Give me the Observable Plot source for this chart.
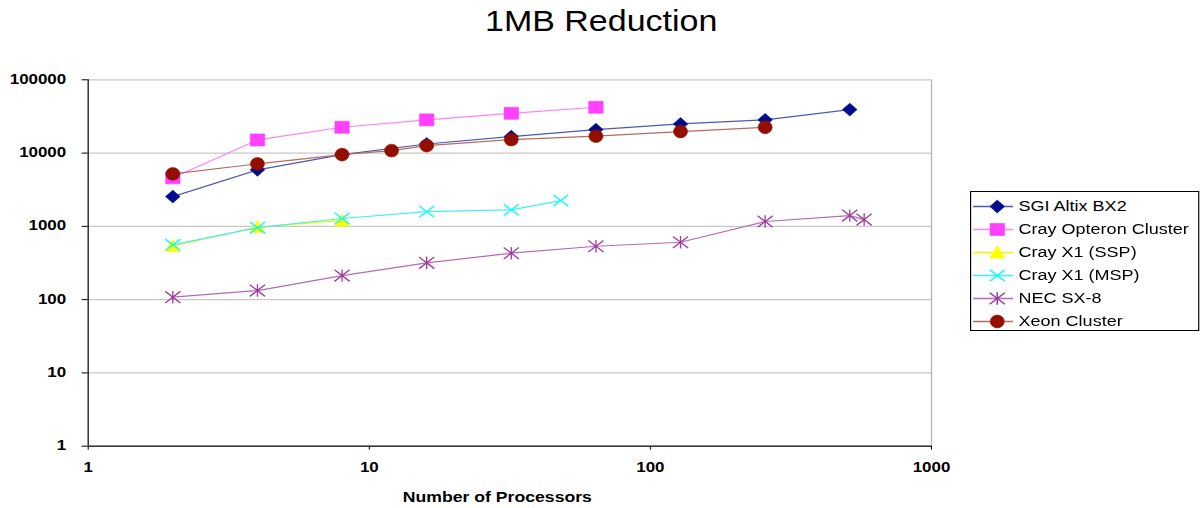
<!DOCTYPE html>
<html>
<head>
<meta charset="utf-8">
<script src="https://cdn.jsdelivr.net/npm/d3@7"></script>
<script src="https://cdn.jsdelivr.net/npm/@observablehq/plot@0.6"></script>
<style>
  html, body { margin: 0; padding: 0; background: #fff; }
  #wrap { position: relative; width: 1203px; height: 508px; overflow: hidden;
          font-family: "Liberation Sans", Arial, sans-serif; }
  #title { height: 45px; width: 1203px; text-align: center; box-sizing: border-box;
           padding-top: 5.5px; line-height: 29px; font-size: 29.3px; color: #000; }
  #title span { display: inline-block; transform: scaleX(1.16); transform-origin: center; }
  #chart svg { display: block; }
  #legend { position: absolute; left: 970px; top: 191px; width: 195.7px; height: 140px;
            box-sizing: border-box; border: 1px solid #000; background: #fff;
            transform: scaleX(1.17); transform-origin: left top; }
  #legend svg { display: block; }
</style>
</head>
<body>
<div id="wrap">
  <div id="title"><span>1MB Reduction</span></div>
  <div id="chart"></div>
  <div id="legend"></div>
</div>
<script>
// ---------- data ----------
const seriesNames = ["SGI Altix BX2", "Cray Opteron Cluster", "Cray X1 (SSP)", "Cray X1 (MSP)", "NEC SX-8", "Xeon Cluster"];

const sgiProcs = [2, 4, 8, 16, 32, 64, 128, 256, 512];
const sgiValues = [2550, 5900, 9500, 13300, 16800, 20900, 25000, 28400, 39200];

const opteronProcs = [2, 4, 8, 16, 32, 64];
const opteronValues = [4600, 15100, 22500, 28400, 34900, 42200];

const sspProcs = [2, 4, 8];
const sspValues = [540, 980, 1200];

const mspProcs = [2, 4, 8, 16, 32, 48];
const mspValues = [560, 960, 1280, 1590, 1680, 2250];

const necProcs = [2, 4, 8, 16, 32, 64, 128, 256, 512, 576];
const necValues = [108, 133, 213, 318, 430, 535, 607, 1165, 1403, 1238];

const xeonProcs = [2, 4, 8, 12, 16, 32, 64, 128, 256];
const xeonValues = [5200, 7130, 9540, 10800, 12650, 15270, 16990, 19650, 22500];

const yTicks = [1, 10, 100, 1000, 10000, 100000];
const xTicks = [1, 10, 100, 1000];
const xLabel = "Number of Processors";

// ---------- styles ----------
const lineColors   = ["#4a5ab4", "#ff80ff", "#f4f400", "#40f0f0", "#b868b8", "#b86a60"];
const markerColors = ["#000c8c", "#ff40ff", "#ffff00", "#00ffff", "#9c3c9c", "#920f00"];
const markerKinds  = ["diamond", "square", "triangle", "times", "star", "circle"];

function makeSymbol(kind, k) {
  // k: horizontal stretch factor
  return {
    draw(c) {
      if (kind === "diamond") {
        c.moveTo(0, -6.4); c.lineTo(7.3 * k, 0); c.lineTo(0, 6.4); c.lineTo(-7.3 * k, 0); c.closePath();
      } else if (kind === "square") {
        c.rect(-7.2 * k, -6, 14.4 * k, 12);
      } else if (kind === "triangle") {
        c.moveTo(0, -6.8); c.lineTo(7.6 * k, 5.6); c.lineTo(-7.6 * k, 5.6); c.closePath();
      } else if (kind === "times") {
        c.moveTo(-7.5 * k, -5.7); c.lineTo(7.5 * k, 5.7);
        c.moveTo(-7.5 * k, 5.7); c.lineTo(7.5 * k, -5.7);
      } else if (kind === "star") {
        c.moveTo(-7.6 * k, -5.8); c.lineTo(7.6 * k, 5.8);
        c.moveTo(-7.6 * k, 5.8); c.lineTo(7.6 * k, -5.8);
        c.moveTo(0, -6.2); c.lineTo(0, 6.2);
      } else {
        const n = 16;
        for (let i = 0; i < n; ++i) {
          const a = (2 * Math.PI * i) / n;
          const x = 7.0 * k * Math.cos(a), y = 6.4 * Math.sin(a);
          if (i === 0) c.moveTo(x, y); else c.lineTo(x, y);
        }
        c.closePath();
      }
    }
  };
}
const filledKinds = new Set(["diamond", "square", "triangle", "circle"]);

const allProcs = [sgiProcs, opteronProcs, sspProcs, mspProcs, necProcs, xeonProcs];
const allValues = [sgiValues, opteronValues, sspValues, mspValues, necValues, xeonValues];

const seriesMarks = [];
seriesNames.forEach((name, s) => {
  const rows = allProcs[s].map((p, i) => ({series: name, procs: p, value: allValues[s][i]}));
  const kind = markerKinds[s];
  const filled = filledKinds.has(kind);
  seriesMarks.push(Plot.line(rows, {x: "procs", y: "value", stroke: lineColors[s], strokeWidth: 1.2}));
  seriesMarks.push(Plot.dot(rows, {
    x: "procs", y: "value", symbol: makeSymbol(kind, 1),
    fill: filled ? markerColors[s] : "none",
    stroke: markerColors[s], strokeWidth: filled ? 0.6 : 1.3
  }));
});

const chart = Plot.plot({
  width: 1203, height: 463,
  marginLeft: 87.7, marginRight: 272, marginTop: 34.3, marginBottom: 62.3,
  style: {fontFamily: '"Liberation Sans", Arial, sans-serif', fontSize: "15.4px", fontWeight: "bold", color: "#000", background: "transparent", overflow: "visible"},
  x: {type: "log", domain: [1, 1000]},
  y: {type: "log", domain: [1, 100000]},
  marks: [
    Plot.ruleY(yTicks, {stroke: "#c8c8c8", strokeWidth: 1.3}),
    Plot.ruleX([1000], {stroke: "#b4b4b4", strokeWidth: 1.3}),
    Plot.axisY({ticks: yTicks, tickFormat: d => String(d), tickSize: 6, tickPadding: 16, label: null}),
    Plot.axisX({ticks: xTicks, tickFormat: d => String(d), tickSize: 4, tickPadding: 13.6, label: null}),
    Plot.ruleX([1], {stroke: "#222", strokeWidth: 1.4}),
    Plot.ruleY([1], {stroke: "#333", strokeWidth: 1.4}),
    ...seriesMarks,
    Plot.text([xLabel], {text: d => d, frameAnchor: "bottom", dy: 56, dx: -12.5, fontSize: 14})
  ]
});

function stretch(selection, k, extraY) {
  selection.each(function () {
    const t = this.getAttribute("transform") || "";
    const x = +this.getAttribute("x") || 0, y = (+this.getAttribute("y") || 0) + extraY;
    this.removeAttribute("x"); this.removeAttribute("y");
    this.setAttribute("transform", `${t} translate(${x},${y}) scale(${k},1)`);
  });
}
const svgSel = d3.select(chart);
stretch(svgSel.selectAll('g[aria-label="y-axis tick label"] text'), 1.1, 4);
stretch(svgSel.selectAll('g[aria-label="x-axis tick label"] text'), 1.1, 8);
stretch(svgSel.selectAll("text").filter(function () { return this.textContent === xLabel; }), 1.26, 0);

document.getElementById("chart").appendChild(chart);

// ---------- legend ----------
const legendMarks = [];
seriesNames.forEach((name, s) => {
  const kind = markerKinds[s];
  const filled = filledKinds.has(kind);
  legendMarks.push(Plot.ruleY([{series: name, a: 1.6, b: 35.8}], {y: "series", x1: "a", x2: "b", stroke: lineColors[s], strokeWidth: 1.3}));
  legendMarks.push(Plot.dot([{series: name, at: 21.8}], {
    x: "at", y: "series", symbol: makeSymbol(kind, 1 / 1.17),
    fill: filled ? markerColors[s] : "none",
    stroke: markerColors[s], strokeWidth: filled ? 0.6 : 1.3
  }));
  legendMarks.push(Plot.text([{series: name, at: 40}], {x: "at", y: "series", text: "series", textAnchor: "start", fontSize: 15.4, fill: "#000"}));
});

const legend = Plot.plot({
  width: 193.7, height: 138,
  marginTop: 0, marginBottom: 0, marginLeft: 0, marginRight: 0,
  style: {fontFamily: '"Liberation Sans", Arial, sans-serif', fontSize: "15.4px", background: "transparent", overflow: "visible"},
  x: {domain: [0, 193.7], range: [0, 193.7], axis: null},
  y: {type: "point", domain: seriesNames, range: [13, 129], padding: 0, axis: null},
  marks: legendMarks
});
document.getElementById("legend").appendChild(legend);
</script>
</body>
</html>
